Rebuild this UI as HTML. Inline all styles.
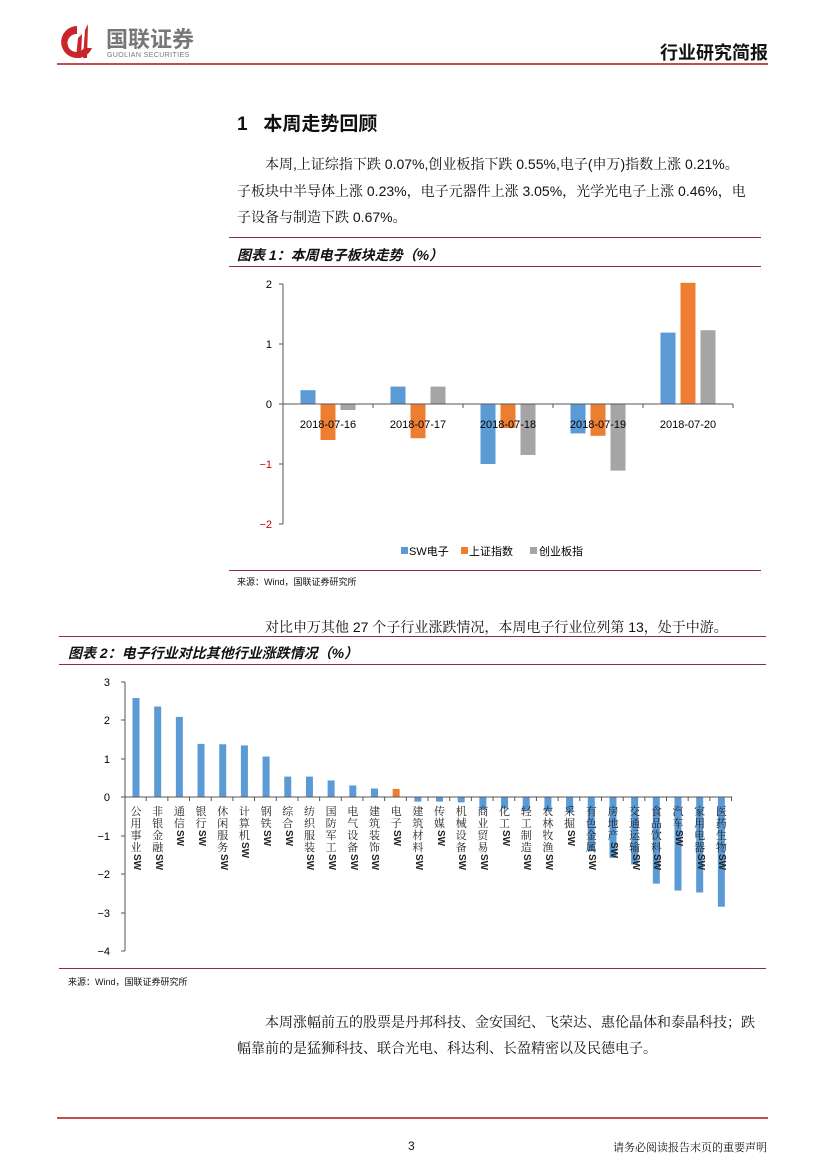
<!DOCTYPE html>
<html><head><meta charset="utf-8">
<style>
body{margin:0;background:#fff;}
#p{position:relative;width:827px;height:1169px;overflow:hidden;font-family:"Liberation Sans","Noto Sans CJK SC",sans-serif;color:#111;}
.a{position:absolute;white-space:nowrap;}
.t{font-family:"Liberation Sans","Noto Serif CJK SC",serif;font-size:14px;}
.ln{position:absolute;height:1px;background:#8e2c48;}
.v{position:absolute;width:12px;font-size:11px;line-height:12px;font-family:"Liberation Sans","Noto Serif CJK SC",serif;color:#222;text-align:center;}
.v span{display:block;}
.v .sw{display:block;width:12px;height:16px;position:relative;}
.v .sw i{position:absolute;left:-2px;top:2px;font-style:normal;font-size:10px;font-weight:bold;transform:rotate(90deg);transform-origin:8px 6px;font-family:"Liberation Sans",sans-serif;}
</style></head><body><div id="p">
<svg class="a" style="left:60px;top:22px" width="34" height="40" viewBox="0 0 34 40">
<path d="M17 4 A16 16 0 1 0 32 26 L24 26 A9 9 0 1 1 17 12 Z" fill="#c8252c"/>
<path d="M16 36 L18 16 L22 12 L21 36 Z M23 36 L25 8 L28 2 L27 36 Z" fill="#c8252c"/>
</svg>
<div class="a" style="left:106px;top:22px;font-size:22px;font-weight:bold;color:#777;">国联证券</div>
<div class="a" style="left:107px;top:52px;font-size:7px;color:#777;letter-spacing:0.4px;">GUOLIAN SECURITIES</div>
<div class="a" style="right:59px;top:39px;font-size:18px;font-weight:bold;">行业研究简报</div>
<div class="a" style="left:57px;top:63px;width:711px;height:2px;background:#c0504d;"></div>

<div class="a" style="left:237px;top:109px;font-size:19px;font-weight:bold;">1&nbsp;&nbsp;&nbsp;本周走势回顾</div>
<div class="a t" style="left:265px;top:154px;">本周,上证综指下跌 0.07%,创业板指下跌 0.55%,电子(申万)指数上涨 0.21%。</div>
<div class="a t" style="left:237px;top:181px;">子板块中半导体上涨 0.23%，电子元器件上涨 3.05%，光学光电子上涨 0.46%，电</div>
<div class="a t" style="left:237px;top:207px;">子设备与制造下跌 0.67%。</div>

<div class="ln" style="left:229px;top:237px;width:532px;"></div>
<div class="a" style="left:237px;top:245px;font-size:14px;font-weight:bold;font-style:italic;">图表 1：本周电子板块走势（%）</div>
<div class="ln" style="left:229px;top:266px;width:532px;"></div>
<svg class="a" style="left:0;top:0" width="827" height="600">
<g font-size="11" font-family="Liberation Sans,sans-serif" text-anchor="end">
<text x="272" y="288">2</text><text x="272" y="348">1</text><text x="272" y="408">0</text>
<text x="272" y="468" fill="#c00">−1</text><text x="272" y="528" fill="#c00">−2</text></g>
<line x1="283" y1="284" x2="283" y2="524" stroke="#555"/>
<g stroke="#555"><line x1="279" y1="284" x2="283" y2="284"/><line x1="279" y1="344" x2="283" y2="344"/><line x1="279" y1="404" x2="283" y2="404"/><line x1="279" y1="464" x2="283" y2="464"/><line x1="279" y1="524" x2="283" y2="524"/></g>
<g id="c1"></g>
<line x1="283" y1="404" x2="733" y2="404" stroke="#555"/>
<g stroke="#555"><line x1="373" y1="404" x2="373" y2="408"/><line x1="463" y1="404" x2="463" y2="408"/><line x1="553" y1="404" x2="553" y2="408"/><line x1="643" y1="404" x2="643" y2="408"/><line x1="733" y1="404" x2="733" y2="408"/></g>
<g font-size="11" font-family="Liberation Sans,sans-serif" text-anchor="middle">
<text x="328" y="428">2018-07-16</text><text x="418" y="428">2018-07-17</text><text x="508" y="428">2018-07-18</text><text x="598" y="428">2018-07-19</text><text x="688" y="428">2018-07-20</text></g>
<rect x="401" y="547" width="7" height="7" fill="#5b9bd5"/><rect x="461" y="547" width="7" height="7" fill="#ed7d31"/><rect x="530" y="547" width="7" height="7" fill="#a5a5a5"/>
<g font-size="11" font-family="Liberation Sans,Noto Sans CJK SC,sans-serif"><text x="409" y="555">SW电子</text><text x="469" y="555">上证指数</text><text x="539" y="555">创业板指</text></g>
</svg>
<div class="ln" style="left:229px;top:570px;width:532px;"></div>
<div class="a" style="left:237px;top:575px;font-size:9px;">来源：Wind，国联证券研究所</div>

<div class="a t" style="left:265px;top:617px;">对比申万其他 27 个子行业涨跌情况，本周电子行业位列第 13，处于中游。</div>

<div class="ln" style="left:59px;top:636px;width:707px;"></div>
<div class="a" style="left:68px;top:643px;font-size:14px;font-weight:bold;font-style:italic;">图表 2：电子行业对比其他行业涨跌情况（%）</div>
<div class="ln" style="left:59px;top:664px;width:707px;"></div>
<svg class="a" style="left:0;top:0" width="827" height="1000">
<g font-size="11" font-family="Liberation Sans,sans-serif" text-anchor="end">
<text x="110" y="686">3</text><text x="110" y="724">2</text><text x="110" y="763">1</text><text x="110" y="801">0</text><text x="110" y="840">−1</text><text x="110" y="878">−2</text><text x="110" y="917">−3</text><text x="110" y="955">−4</text></g>
<line x1="125" y1="682" x2="125" y2="951" stroke="#555"/>
<g stroke="#555"><line x1="121" y1="682" x2="125" y2="682"/><line x1="121" y1="720" x2="125" y2="720"/><line x1="121" y1="759" x2="125" y2="759"/><line x1="121" y1="797" x2="125" y2="797"/><line x1="121" y1="836" x2="125" y2="836"/><line x1="121" y1="874" x2="125" y2="874"/><line x1="121" y1="913" x2="125" y2="913"/><line x1="121" y1="951" x2="125" y2="951"/></g>
<g id="c2"></g>
<line x1="125" y1="797" x2="732" y2="797" stroke="#555"/>
<g id="t2" stroke="#555"></g>
</svg>
<div id="lb"></div>
<div class="ln" style="left:59px;top:968px;width:707px;"></div>
<div class="a" style="left:68px;top:975px;font-size:9px;">来源：Wind，国联证券研究所</div>

<div class="a t" style="left:265px;top:1012px;">本周涨幅前五的股票是丹邦科技、金安国纪、飞荣达、惠伦晶体和泰晶科技；跌</div>
<div class="a t" style="left:237px;top:1038px;">幅靠前的是猛狮科技、联合光电、科达利、长盈精密以及民德电子。</div>

<div class="a" style="left:57px;top:1117px;width:711px;height:2px;background:#c0504d;"></div>
<div class="a" style="left:408px;top:1139px;font-size:12px;">3</div>
<div class="a" style="right:60px;top:1139px;font-size:11px;font-family:'Liberation Sans','Noto Serif CJK SC',serif;">请务必阅读报告末页的重要声明</div>
</div>
<script>
var ns="http://www.w3.org/2000/svg";
function r(g,x,y,w,h,c){var e=document.createElementNS(ns,"rect");e.setAttribute("x",x);e.setAttribute("y",y);e.setAttribute("width",w);e.setAttribute("height",h);e.setAttribute("fill",c);g.appendChild(e);}
var d1=[[0.23,-0.6,-0.1],[0.29,-0.57,0.29],[-1.0,-0.4,-0.85],[-0.49,-0.53,-1.11],[1.19,2.02,1.23]];
var cs=["#5b9bd5","#ed7d31","#a5a5a5"];var g1=document.getElementById("c1");
d1.forEach(function(a,i){var c=328+90*i;a.forEach(function(v,j){var x=c+(j-1)*20-7.5;var h=Math.abs(v)*60;r(g1,x,v>0?404-h:404,15,h,cs[j]);});});
var names=["公用事业","非银金融","通信","银行","休闲服务","计算机","钢铁","综合","纺织服装","国防军工","电气设备","建筑装饰","电子","建筑材料","传媒","机械设备","商业贸易","化工","轻工制造","农林牧渔","采掘","有色金属","房地产","交通运输","食品饮料","汽车","家用电器","医药生物"];
var vals=[2.57,2.35,2.08,1.38,1.37,1.34,1.05,0.53,0.53,0.43,0.3,0.22,0.21,-0.12,-0.12,-0.14,-0.33,-0.3,-0.37,-0.37,-0.4,-1.41,-1.58,-1.75,-2.25,-2.43,-2.48,-2.85];
var g2=document.getElementById("c2"),t2=document.getElementById("t2"),lb=document.getElementById("lb");var sp=21.68;
var html="";
vals.forEach(function(v,i){var c=136+sp*i;var h=Math.abs(v)*38.5;r(g2,c-3.5,v>0?797-h:797,7,h,i==12?"#ed7d31":"#5b9bd5");
var l=document.createElementNS(ns,"line");var tx=125+sp*(i+1)-0.5;l.setAttribute("x1",tx);l.setAttribute("x2",tx);l.setAttribute("y1",797);l.setAttribute("y2",801);t2.appendChild(l);
var s="";for(var k=0;k<names[i].length;k++)s+="<span>"+names[i][k]+"</span>";
html+='<div class="v" style="left:'+(c-6)+'px;top:806px;">'+s+'<span class="sw"><i>SW</i></span></div>';});
lb.innerHTML=html;
</script>
</body></html>
